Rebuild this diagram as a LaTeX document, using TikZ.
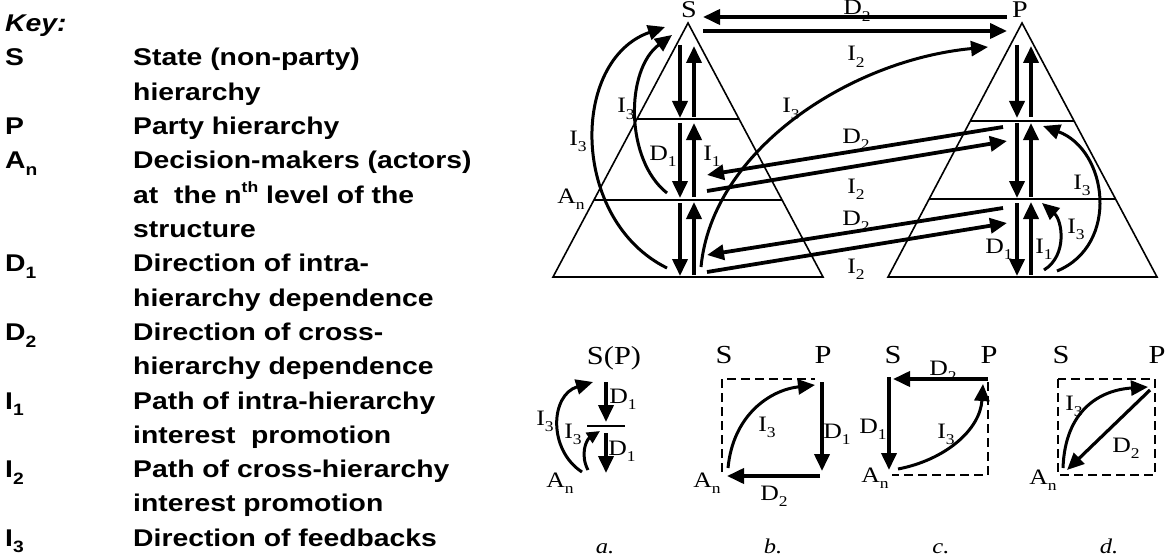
\documentclass[tikz,border=0pt]{standalone}
\usepackage{fontspec}
\setmainfont{Liberation Serif}[FakeStretch=1.17]
\newfontfamily\keyfont{Liberation Sans}[FakeStretch=1.17]
\usetikzlibrary{arrows.meta,calc}
\newcommand\sbs[2]{#1\raisebox{-0.28em}{\scalebox{0.68}{#2}}}
\newcommand\sps[2]{#1\raisebox{0.45em}{\scalebox{0.62}{#2}}}
\tikzset{
  tri/.style={line width=1.6pt, line join=miter},
  arr/.style={line width=3.8pt, -{Triangle[length=17pt,width=15pt]}},
  carr/.style={line width=3pt, -{Triangle[length=17pt,width=15pt]}},
  dashbox/.style={line width=1.9pt, dash pattern=on 9pt off 5pt},
  lab/.style={inner sep=0pt, anchor=base, font=\fontsize{22}{22}\selectfont},
  big/.style={inner sep=0pt, anchor=base, font=\fontsize{26}{26}\selectfont},
  pan/.style={inner sep=0pt, anchor=base, font=\fontsize{21}{21}\selectfont\itshape},
  keyk/.style={inner sep=0pt, anchor=base west, font=\fontsize{24.2}{24.2}\keyfont\bfseries},
}
\begin{document}
\begin{tikzpicture}[x=1pt,y=-1pt]
\useasboundingbox (0,0) rectangle (1169,559);
\fill[white] (0,0) rectangle (1169,559);

% ---------------- Key ----------------
\node[keyk, font=\fontsize{24.2}{24.2}\keyfont\bfseries\itshape] (key) at (5,32) {Key:};
\foreach \k/\lbl/\txt in {
 0/S/State (non-party),
 1//hierarchy,
 2/P/Party hierarchy,
 3/\sbs{A}{n}/Decision-makers (actors),
 4//at\ \ the \sps{n}{th} level of the,
 5//structure,
 6/\sbs{D}{1}/Direction of intra-,
 7//hierarchy dependence,
 8/\sbs{D}{2}/Direction of cross-,
 9//hierarchy dependence,
 10/\sbs{I}{1}/Path of intra-hierarchy,
 11//interest\ \ promotion,
 12/\sbs{I}{2}/Path of cross-hierarchy,
 13//interest promotion,
 14/\sbs{I}{3}/Direction of feedbacks}{
  \node[keyk] (kl\k) at (5,66+34.3*\k) {\lbl};
  \node[keyk] (kt\k) at (133,66+34.3*\k) {\txt};
}

% ---------------- Triangles ----------------
\path coordinate (sT) at (688,23) coordinate (sL) at (553,277) coordinate (sR) at (823,277);
\path coordinate (pT) at (1022,23) coordinate (pL) at (888,277) coordinate (pR) at (1157,277);
\draw[tri] (sT) -- (sL) -- (sR) -- cycle;
\draw[tri] (pT) -- (pL) -- (pR) -- cycle;
\draw[tri] ($(sT)!0.378!(sL)$) -- ($(sT)!0.378!(sR)$);
\draw[tri] ($(sT)!0.697!(sL)$) -- ($(sT)!0.697!(sR)$);
\draw[tri] ($(pT)!0.386!(pL)$) -- ($(pT)!0.386!(pR)$);
\draw[tri] ($(pT)!0.693!(pL)$) -- ($(pT)!0.693!(pR)$);

\node[big, font=\fontsize{24}{24}\selectfont] (S) at (689,18) {S};
\node[big, font=\fontsize{24}{24}\selectfont] (P) at (1020,18) {P};

% vertical arrows in the triangles
\foreach \dx/\ux/\n in {680/694/s,1017/1031/p}{
  \draw[arr] (\dx,45) coordinate (\n d1a) -- (\dx,118) coordinate (\n d1b);
  \draw[arr] (\ux,117) coordinate (\n u1a) -- (\ux,46) coordinate (\n u1b);
  \draw[arr] (\dx,123) coordinate (\n d2a) -- (\dx,198) coordinate (\n d2b);
  \draw[arr] (\ux,197) coordinate (\n u2a) -- (\ux,123) coordinate (\n u2b);
  \draw[arr] (\dx,203) coordinate (\n d3a) -- (\dx,276) coordinate (\n d3b);
  \draw[arr] (\ux,275) coordinate (\n u3a) -- (\ux,202) coordinate (\n u3b);
}

% cross-hierarchy arrows
\path coordinate (td2a) at (1007,17) coordinate (td2b) at (703,17)
      coordinate (ti2a) at (703,31)  coordinate (ti2b) at (1007,31)
      coordinate (md2a) at (1003,127) coordinate (md2b) at (707,175)
      coordinate (mi2a) at (707,191) coordinate (mi2b) at (1007,141)
      coordinate (ld2a) at (1003,208) coordinate (ld2b) at (707,255)
      coordinate (li2a) at (707,272) coordinate (li2b) at (1007,223);
\draw[arr] (td2a) -- (td2b);
\draw[arr] (ti2a) -- (ti2b);
\draw[arr] (md2a) -- (md2b);
\draw[arr] (mi2a) -- (mi2b);
\draw[arr] (ld2a) -- (ld2b);
\draw[arr] (li2a) -- (li2b);

% feedback curves
\path coordinate (f1a) at (701,267) coordinate (f1b) at (988,47)
      coordinate (f2a) at (667,268) coordinate (f2b) at (665,27)
      coordinate (f3a) at (667,193) coordinate (f3b) at (672,35)
      coordinate (f4a) at (1044,270) coordinate (f4b) at (1042,203)
      coordinate (f5a) at (1057,271) coordinate (f5b) at (1043,126);
\draw[carr] (f1a) .. controls (712,150) and (850,60) .. (f1b);
\draw[carr] (f2a) .. controls (570,220) and (570,60) .. (f2b);
\draw[carr] (f3a) .. controls (625,160) and (625,70) .. (f3b);
\draw[carr] (f4a) .. controls (1068,255) and (1062,220) .. (f4b);
\draw[carr] (f5a) .. controls (1120,245) and (1108,150) .. (f5b);

% labels of the upper figure
\node[lab] (lD2t) at (857,15) {\sbs{D}{2}};
\node[lab] (lI2t) at (856,61) {\sbs{I}{2}};
\node[lab] (lI3b) at (791,113) {\sbs{I}{3}};
\node[lab] (lD2m) at (856,143) {\sbs{D}{2}};
\node[lab] (lI2m) at (856,193) {\sbs{I}{2}};
\node[lab] (lD2l) at (856,225) {\sbs{D}{2}};
\node[lab] (lI2l) at (856,273) {\sbs{I}{2}};
\node[lab] (lI3i) at (626,113) {\sbs{I}{3}};
\node[lab] (lI3o) at (578,145) {\sbs{I}{3}};
\node[lab] (lAn)  at (571,203) {\sbs{A}{n}};
\node[lab] (lD1s) at (663,160) {\sbs{D}{1}};
\node[lab] (lI1s) at (712,160) {\sbs{I}{1}};
\node[lab] (lI3pu) at (1082,189) {\sbs{I}{3}};
\node[lab] (lI3pl) at (1076,233) {\sbs{I}{3}};
\node[lab] (lD1p) at (999,253) {\sbs{D}{1}};
\node[lab] (lI1p) at (1044,253) {\sbs{I}{1}};

% ---------------- panel a ----------------
\node[big] (aSP) at (614,364) {S(P)};
\path coordinate (aA) at (606,382) coordinate (aB) at (606,422)
      coordinate (aC) at (606,433) coordinate (aD) at (606,473)
      coordinate (aL1) at (587,426) coordinate (aL2) at (625,426)
      coordinate (aO1) at (582,472) coordinate (aO2) at (593,382)
      coordinate (aI1) at (588,470) coordinate (aI2) at (600,431);
\draw[arr] (aA) -- (aB);
\draw[arr] (aC) -- (aD);
\draw[line width=2.2pt] (aL1) -- (aL2);
\draw[carr] (aO1) .. controls (548,450) and (550,395) .. (aO2);
\draw[carr, -{Triangle[length=13pt,width=12pt]}] (aI1) .. controls (580,455) and (586,440) .. (aI2);
\node[lab] at (623,403) {\sbs{D}{1}};
\node[lab] at (622,455) {\sbs{D}{1}};
\node[lab] at (545,425) {\sbs{I}{3}};
\node[lab] at (573,438) {\sbs{I}{3}};
\node[lab] at (560,487) {\sbs{A}{n}};
\node[pan] (pa) at (605,553) {a.};

% ---------------- panel b ----------------
\node[big] (bS) at (724,363) {S};
\node[big] (bP) at (823,363) {P};
\path coordinate (bTL) at (722,379) coordinate (bTR) at (815,379) coordinate (bBL) at (722,472)
      coordinate (bD1a) at (822,382) coordinate (bD1b) at (822,471)
      coordinate (bD2a) at (820,476) coordinate (bD2b) at (727,476)
      coordinate (bI3a) at (728,468) coordinate (bI3b) at (815,385);
\draw[dashbox] (bBL) -- (bTL) -- (bTR);
\draw[arr] (bD1a) -- (bD1b);
\draw[arr] (bD2a) -- (bD2b);
\draw[carr] (bI3a) .. controls (733,415) and (770,390) .. (bI3b);
\node[lab] at (767,431) {\sbs{I}{3}};
\node[lab] at (837,438) {\sbs{D}{1}};
\node[lab] at (774,500) {\sbs{D}{2}};
\node[lab] at (707,487) {\sbs{A}{n}};
\node[pan] (pb) at (773,553) {b.};

% ---------------- panel c ----------------
\node[big] (cS) at (893,363) {S};
\node[big] (cP) at (989,363) {P};
\path coordinate (cD2a) at (988,379) coordinate (cD2b) at (893,379)
      coordinate (cD1a) at (889,377) coordinate (cD1b) at (889,470)
      coordinate (cTR) at (988,382) coordinate (cBR) at (988,475) coordinate (cBL) at (892,475)
      coordinate (cI3a) at (898,469) coordinate (cI3b) at (983,384);
\draw[dashbox] (cTR) -- (cBR) -- (cBL);
\draw[arr] (cD2a) -- (cD2b);
\draw[arr] (cD1a) -- (cD1b);
\draw[carr] (cI3a) .. controls (945,460) and (980,430) .. (cI3b);
\node[lab] at (943,375) {\sbs{D}{2}};
\node[lab] at (873,433) {\sbs{D}{1}};
\node[lab] at (946,438) {\sbs{I}{3}};
\node[lab] at (875,482) {\sbs{A}{n}};
\node[pan] (pc) at (941,553) {c.};

% ---------------- panel d ----------------
\node[big] (dS) at (1061,363) {S};
\node[big] (dP) at (1157,363) {P};
\path coordinate (dTL) at (1058,379) coordinate (dBR) at (1155,475)
      coordinate (dI3a) at (1063,468) coordinate (dI3b) at (1148,387)
      coordinate (dD2a) at (1150,390) coordinate (dD2b) at (1067,470);
\draw[dashbox] (dTL) rectangle (dBR);
\draw[carr] (dI3a) .. controls (1065,410) and (1100,390) .. (dI3b);
\draw[arr, line width=3.2pt] (dD2a) -- (dD2b);
\node[lab] at (1074,410) {\sbs{I}{3}};
\node[lab] at (1126,452) {\sbs{D}{2}};
\node[lab] at (1043,484) {\sbs{A}{n}};
\node[pan] (pd) at (1109,553) {d.};
\end{tikzpicture}
\end{document}
